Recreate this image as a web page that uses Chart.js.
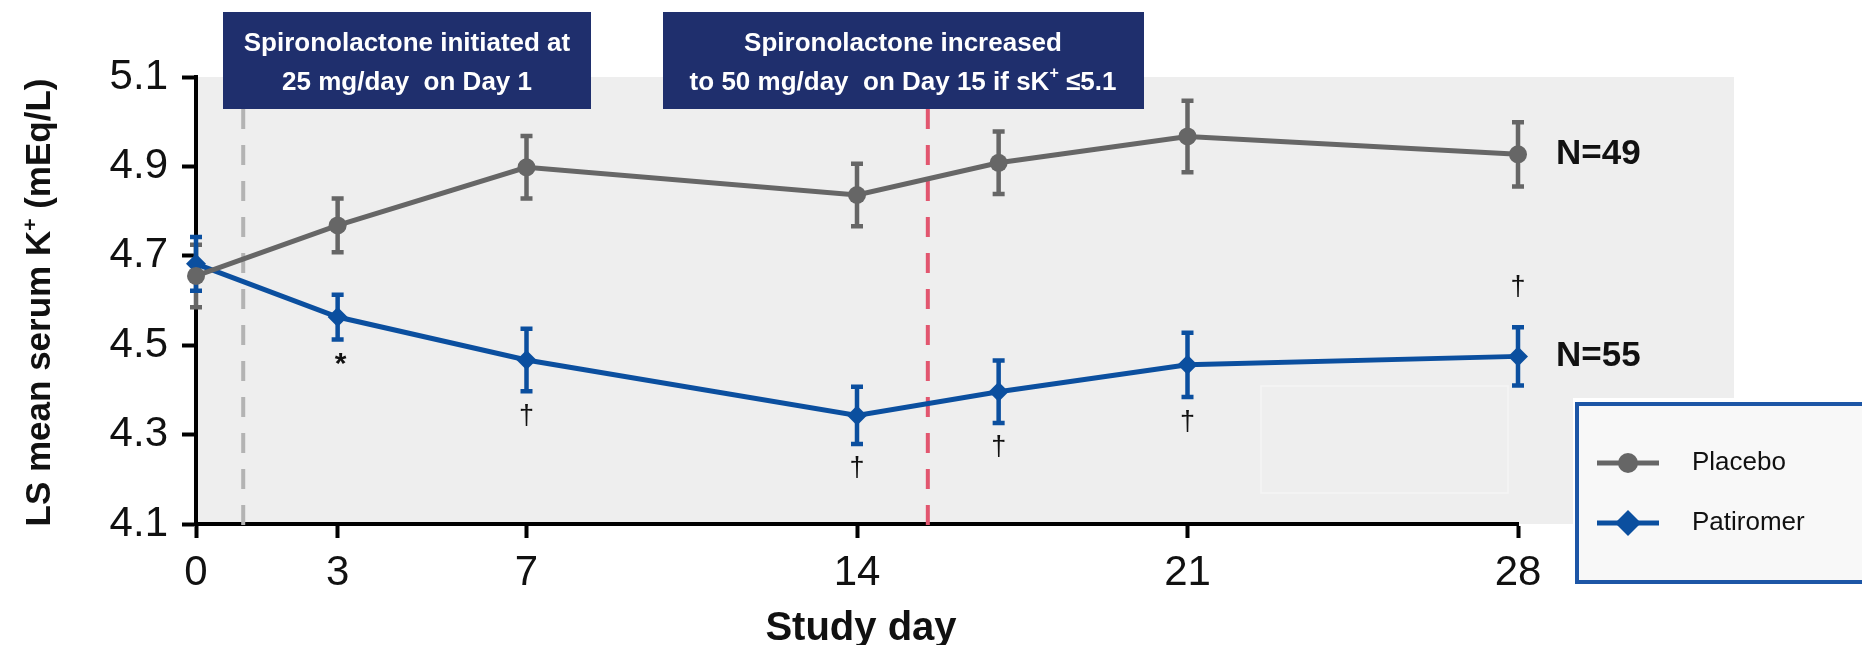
<!DOCTYPE html>
<html>
<head>
<meta charset="utf-8">
<script src="https://cdn.jsdelivr.net/npm/chart.js@4.4.1/dist/chart.umd.min.js"></script>
<style>
  html, body { margin: 0; padding: 0; background: #fff; }
  #wrap { width: 1862px; height: 645px; }
</style>
</head>
<body>
<div id="wrap"><canvas id="myChart" width="1862" height="645"></canvas></div>
<script>
// study visits and LS mean serum K+ (mEq/L) with error bars
var visitDays = [0, 3, 7, 14, 17, 21, 28];
var placeboMean = [4.655, 4.768, 4.898, 4.836, 4.908, 4.967, 4.927];
var placeboErr = [0.07, 0.06, 0.07, 0.07, 0.07, 0.08, 0.072];
var patiromerMean = [4.682, 4.563, 4.467, 4.343, 4.396, 4.456, 4.475];
var patiromerErr = [0.06, 0.05, 0.07, 0.064, 0.07, 0.072, 0.065];
var patiromerMarks = ["", "*", "\u2020", "\u2020", "\u2020", "\u2020", "\u2020"];
var groupN = ["N=49", "N=55"];

var xTicks = [0, 3, 7, 14, 21, 28];
var yTicks = [4.1, 4.3, 4.5, 4.7, 4.9, 5.1];

// dosing events (study day)
var spiroStartDay = 1;
var spiroIncreaseDay = 15.5;

var FONT = '"Liberation Sans", Arial, sans-serif';
var GREY = "#666666";
var BLUE = "#0b4f9f";

// text with a superscript part, parts = [[text, isSup], ...]
function drawParts(ctx, parts, x, y, size, weight, align) {
  var widths = parts.map(function (p) {
    ctx.font = weight + " " + (p[1] ? Math.round(size * 0.6) : size) + "px " + FONT;
    return ctx.measureText(p[0]).width;
  });
  var total = widths.reduce(function (a, b) { return a + b; }, 0);
  var cx = align === "center" ? x - total / 2 : x;
  ctx.textAlign = "left";
  parts.forEach(function (p, i) {
    ctx.font = weight + " " + (p[1] ? Math.round(size * 0.6) : size) + "px " + FONT;
    ctx.fillText(p[0], cx, p[1] ? y - size * 0.38 : y);
    cx += widths[i];
  });
}

var backdrop = {
  id: "backdrop",
  beforeDraw: function (chart) {
    var ctx = chart.ctx, a = chart.chartArea;
    ctx.save();
    ctx.fillStyle = "#fff";
    ctx.fillRect(0, 0, chart.width, chart.height);
    ctx.fillStyle = "#eeeeee";
    ctx.beginPath();
    ctx.moveTo(a.left, a.top);
    ctx.lineTo(a.right + 216, a.top);
    ctx.lineTo(a.right + 216, a.top + 321);
    ctx.lineTo(a.right + 55, a.top + 321);
    ctx.lineTo(a.right + 55, a.bottom);
    ctx.lineTo(a.left, a.bottom);
    ctx.closePath();
    ctx.fill();
    ctx.strokeStyle = "#f5f5f5";
    ctx.lineWidth = 1.5;
    ctx.strokeRect(a.right - 257, a.top + 309, 247, 107);
    ctx.restore();
  }
};

var errorBars = {
  id: "errorBars",
  beforeDatasetsDraw: function (chart) {
    var ctx = chart.ctx, x = chart.scales.x, y = chart.scales.y, a = chart.chartArea;
    ctx.save();
    // dosing reference lines
    ctx.lineWidth = 4;
    ctx.setLineDash([20, 16]);
    ctx.strokeStyle = "#b3b3b3";
    ctx.beginPath();
    ctx.moveTo(x.getPixelForValue(spiroStartDay), 109);
    ctx.lineTo(x.getPixelForValue(spiroStartDay), a.bottom + 13);
    ctx.stroke();
    ctx.strokeStyle = "#e2566f";
    ctx.beginPath();
    ctx.moveTo(x.getPixelForValue(spiroIncreaseDay), 109);
    ctx.lineTo(x.getPixelForValue(spiroIncreaseDay), a.bottom + 5);
    ctx.stroke();
    ctx.setLineDash([]);

    var sets = [[placeboMean, placeboErr, GREY], [patiromerMean, patiromerErr, BLUE]];
    sets.forEach(function (s) {
      ctx.strokeStyle = s[2];
      ctx.lineWidth = 4.5;
      visitDays.forEach(function (d, j) {
        var px = x.getPixelForValue(d);
        var top = y.getPixelForValue(s[0][j] + s[1][j]);
        var bot = y.getPixelForValue(s[0][j] - s[1][j]);
        ctx.beginPath();
        ctx.moveTo(px, top); ctx.lineTo(px, bot);
        ctx.moveTo(px - 6, top); ctx.lineTo(px + 6, top);
        ctx.moveTo(px - 6, bot); ctx.lineTo(px + 6, bot);
        ctx.stroke();
      });
    });
    ctx.restore();
  },
  afterDatasetsDraw: function (chart) {
    var ctx = chart.ctx, x = chart.scales.x, y = chart.scales.y;
    ctx.save();
    ctx.fillStyle = "#111";
    ctx.textAlign = "center";
    ctx.textBaseline = "middle";
    var last = visitDays.length - 1;
    visitDays.forEach(function (d, j) {
      var m = patiromerMarks[j];
      if (!m) return;
      var px = x.getPixelForValue(d);
      var py = j === last
        ? y.getPixelForValue(patiromerMean[j] + patiromerErr[j]) - 40
        : y.getPixelForValue(patiromerMean[j] - patiromerErr[j]) + 25;
      ctx.font = (m === "*" ? "bold 30px " : "27px ") + FONT;
      ctx.fillText(m, px + (m === "*" ? 3 : 0), py);
    });
    // group sizes next to the last visit
    ctx.font = "bold 35px " + FONT;
    ctx.textAlign = "left";
    var lastX = x.getPixelForValue(visitDays[last]) + 38;
    ctx.fillText(groupN[0], lastX, y.getPixelForValue(placeboMean[last]));
    ctx.fillText(groupN[1], lastX, y.getPixelForValue(patiromerMean[last]));
    ctx.restore();
  }
};

var callouts = {
  id: "callouts",
  afterDraw: function (chart) {
    var ctx = chart.ctx, a = chart.chartArea;
    ctx.save();
    // dosing callout boxes
    ctx.fillStyle = "#1f2f6d";
    ctx.fillRect(223, 12, 368, 97);
    ctx.fillRect(663, 12, 481, 97);
    ctx.fillStyle = "#fff";
    ctx.textBaseline = "middle";
    drawParts(ctx, [["Spironolactone initiated at", false]], 407, 44, 26, "bold", "center");
    drawParts(ctx, [["25 mg/day  on Day 1", false]], 407, 83, 26, "bold", "center");
    drawParts(ctx, [["Spironolactone increased", false]], 903, 44, 26, "bold", "center");
    drawParts(ctx, [["to 50 mg/day  on Day 15 if sK", false], ["+", true], [" \u22645.1", false]], 903, 83, 26, "bold", "center");

    // axis titles
    ctx.fillStyle = "#111";
    ctx.textBaseline = "alphabetic";
    drawParts(ctx, [["Study day", false]], (a.left + a.right) / 2 + 4, 640, 40, "bold", "center");
    ctx.translate(50, (a.top + a.bottom) / 2 + 2);
    ctx.rotate(-Math.PI / 2);
    drawParts(ctx, [["LS mean serum K", false], ["+", true], [" (mEq/L)", false]], 0, 0, 35, "bold", "center");
    ctx.setTransform(1, 0, 0, 1, 0, 0);

    // legend
    ctx.fillStyle = "#f8f8f8";
    ctx.fillRect(1577, 404, 300, 178);
    ctx.strokeStyle = "#1d56a6";
    ctx.lineWidth = 4;
    ctx.strokeRect(1577, 404, 300, 178);
    chart.data.datasets.forEach(function (ds, i) {
      var ly = 463 + i * 60;
      ctx.strokeStyle = ds.borderColor;
      ctx.lineWidth = 5;
      ctx.beginPath();
      ctx.moveTo(1597, ly); ctx.lineTo(1659, ly);
      ctx.stroke();
      ctx.fillStyle = ds.borderColor;
      ctx.beginPath();
      if (ds.pointStyle === "circle") {
        ctx.arc(1628, ly, 10, 0, Math.PI * 2);
      } else {
        ctx.moveTo(1628, ly - 13); ctx.lineTo(1641, ly);
        ctx.lineTo(1628, ly + 13); ctx.lineTo(1615, ly);
        ctx.closePath();
      }
      ctx.fill();
      ctx.fillStyle = "#111";
      ctx.textBaseline = "middle";
      ctx.textAlign = "left";
      ctx.font = "26px " + FONT;
      ctx.fillText(ds.label, 1692, ly);
    });
    ctx.restore();
  }
};

var ctx = document.getElementById("myChart").getContext("2d");
var chart = new Chart(ctx, {
  type: "line",
  data: {
    datasets: [
      {
        label: "Placebo",
        data: visitDays.map(function (d, i) { return { x: d, y: placeboMean[i] }; }),
        borderColor: GREY,
        backgroundColor: GREY,
        borderWidth: 5,
        pointStyle: "circle",
        pointRadius: 9,
        pointBorderWidth: 0,
        tension: 0,
        clip: false
      },
      {
        label: "Patiromer",
        data: visitDays.map(function (d, i) { return { x: d, y: patiromerMean[i] }; }),
        borderColor: BLUE,
        backgroundColor: BLUE,
        borderWidth: 5,
        pointStyle: "rectRot",
        pointRadius: 10,
        pointBorderWidth: 0,
        tension: 0,
        clip: false
      }
    ]
  },
  options: {
    responsive: false,
    animation: false,
    devicePixelRatio: 1,
    layout: { padding: { top: 77, right: 344, left: 0, bottom: 0 }, autoPadding: false },
    plugins: { legend: { display: false }, tooltip: { enabled: false } },
    scales: {
      x: {
        type: "linear",
        min: 0,
        max: 28,
        afterBuildTicks: function (s) { s.ticks = xTicks.map(function (v) { return { value: v }; }); },
        afterFit: function (s) { s.height = 121; },
        ticks: {
          color: "#111",
          font: { family: FONT, size: 42 },
          padding: 10,
          maxRotation: 0,
          callback: function (v) { return String(v); }
        },
        grid: { drawOnChartArea: false, drawTicks: true, tickLength: 14, tickWidth: 4, tickColor: "#000" },
        border: { color: "#000", width: 4 }
      },
      y: {
        min: 4.1,
        max: 5.1,
        afterBuildTicks: function (s) { s.ticks = yTicks.map(function (v) { return { value: v }; }); },
        afterFit: function (s) { s.width = 196; },
        ticks: {
          color: "#111",
          font: { family: FONT, size: 42 },
          padding: 14,
          callback: function (v) { return v.toFixed(1); }
        },
        grid: { drawOnChartArea: false, drawTicks: true, tickLength: 14, tickWidth: 4, tickColor: "#000" },
        border: { color: "#000", width: 4 }
      }
    }
  },
  plugins: [backdrop, errorBars, callouts]
});
</script>
</body>
</html>
